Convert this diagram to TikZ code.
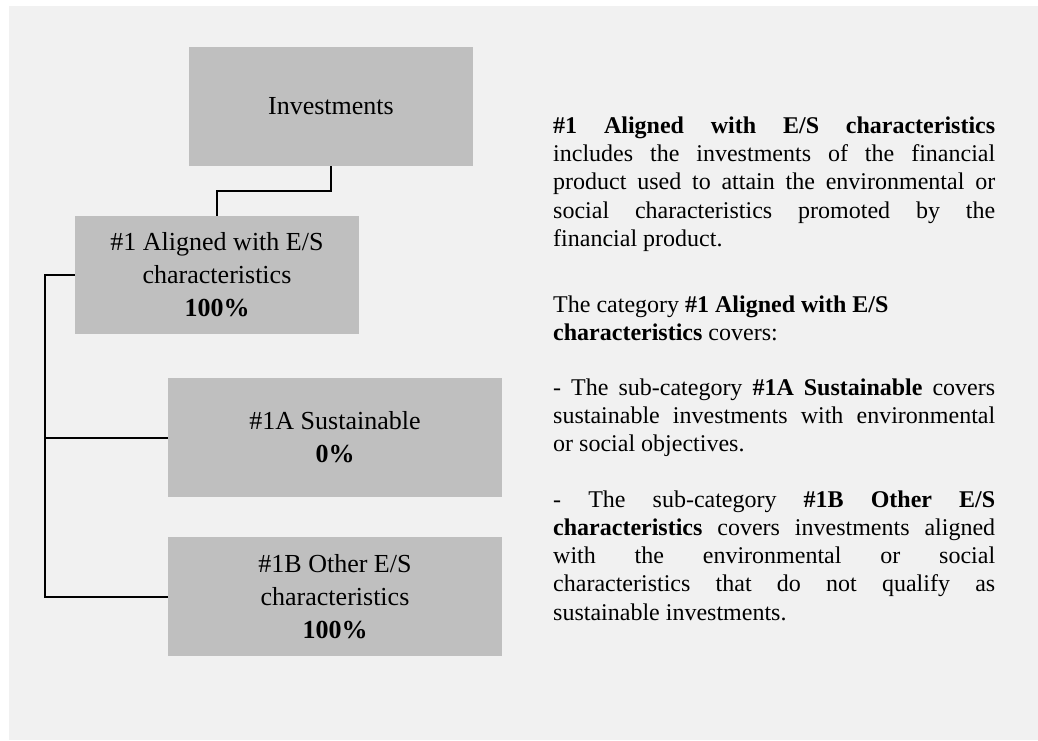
\documentclass[tikz,border=0pt]{standalone}
\usepackage{fontspec}
\setmainfont{Liberation Serif}
\definecolor{panelgray}{RGB}{241,241,241}
\definecolor{boxgray}{RGB}{191,191,191}
\newcommand\descfont{\fontsize{24}{28.3}\selectfont
	\hyphenpenalty=10000\relax
	\tolerance=10000\relax
	\spaceskip=0.25em plus 0.6em minus 0.14em\relax}
\tikzset{
	catbox/.style={
		rectangle,
		fill=boxgray,
		minimum height=119pt,
		inner sep=0pt,
		align=center,
		font=\fontsize{26}{33}\selectfont},
	joinline/.style={draw, line width=2pt},
	desc/.style={
		anchor=base west,
		inner sep=0pt,
		text width=442pt,
		align=justify,
		font=\descfont},
}

\begin{document}
\begin{tikzpicture}[x=1pt,y=-1pt]
	\useasboundingbox (0,0) rectangle (1038,740);
	\fill[panelgray] (9,6) rectangle (1038,740);
	% category tree
	\node[catbox, minimum width=284pt] (invest) at (331,106.5) {Investments};
	\node[catbox, minimum width=284pt, minimum height=118pt] (aligned) at (217,275)
		{\#1 Aligned with E/S\\characteristics\\\textbf{100\%}};
	\node[catbox, minimum width=334pt] (sustain) at (335,437.5)
		{\#1A Sustainable\\\textbf{0\%}};
	\node[catbox, minimum width=334pt] (other) at (335,596.5)
		{\#1B Other E/S\\characteristics\\\textbf{100\%}};
	\coordinate (spine) at (45,596.5);
	\draw[joinline] (invest.south) -- ++(0,25) -| (aligned.north);
	\draw[joinline] (aligned.west) -| (spine) -- (other.west);
	\draw[joinline] (sustain.west) -- (sustain.west -| spine);
	% explanations
	\node[desc] (descone) at (553,133.3)
		{\textbf{\#1 Aligned with E/S characteristics}\linebreak
		includes the investments of the financial\linebreak
		product used to attain the environmental or\linebreak
		social characteristics promoted by the\linebreak
		financial product.};
	\node[desc] (desctwo) at (553,312)
		{The category \textbf{\#1 Aligned with E/S}\\
		\textbf{characteristics} covers:};
	\node[desc] (descthree) at (553,395)
		{- The sub-category \textbf{\#1A Sustainable} covers\linebreak
		sustainable investments with environmental\linebreak
		or social objectives.};
	\node[desc] (descfour) at (553,507)
		{- The sub-category \textbf{\#1B Other E/S}\linebreak
		\textbf{characteristics} covers investments aligned\linebreak
		with the environmental or social\linebreak
		characteristics that do not qualify as\linebreak
		sustainable investments.};
\end{tikzpicture}
\end{document}
